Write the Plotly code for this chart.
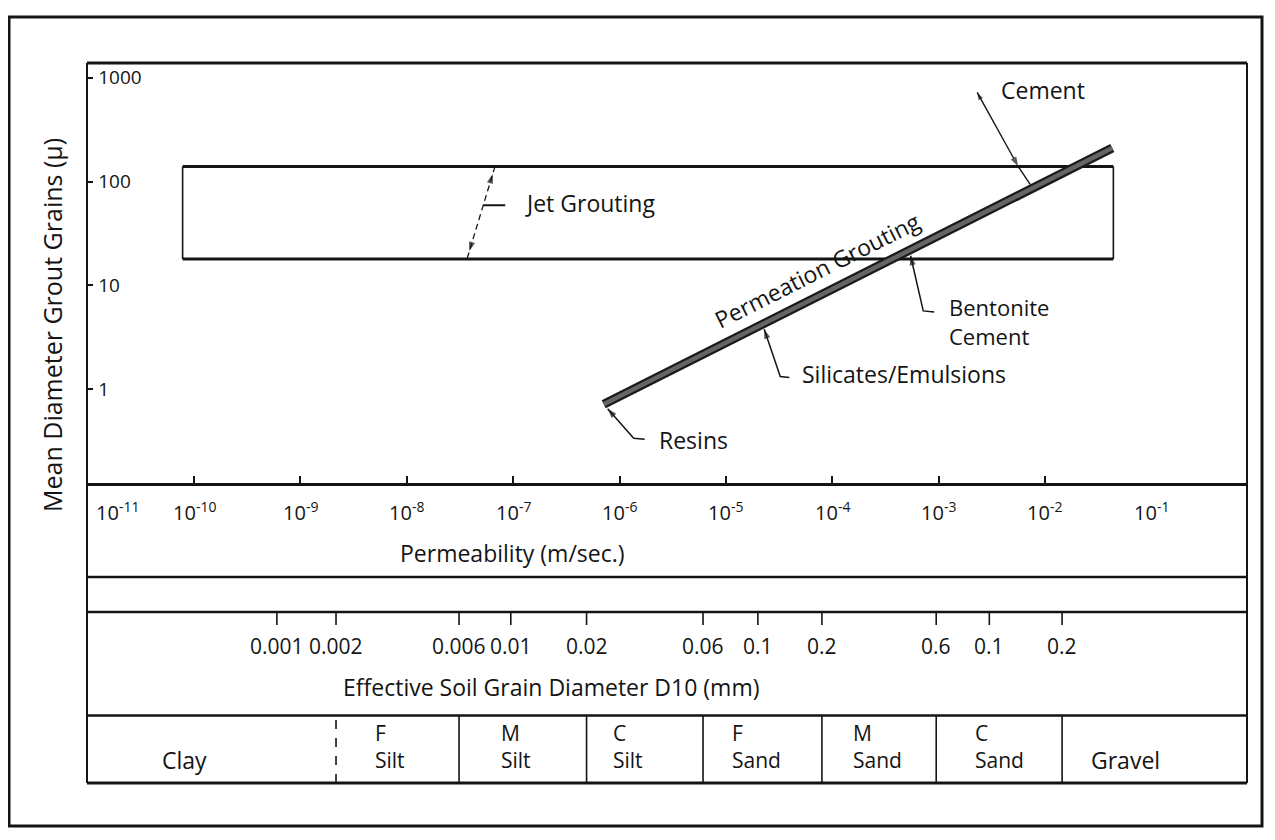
import numpy as np
import plotly.graph_objects as go

# ---------------- data ----------------
# Vertical axis: mean diameter of grout grains (micron), log scale
y_tick_vals = [1, 10, 100, 1000]
y_tick_text = ["1", "10", "100", "1000"]

# Horizontal axis: permeability (m/sec.), log scale
perm_label_exp = [-11, -10, -9, -8, -7, -6, -5, -4, -3, -2, -1]
perm_tick_vals = [1e-10, 1e-9, 1e-8, 1e-7, 1e-6, 1e-5, 1e-4, 1e-3, 1e-2]

# Jet grouting band (permeability range, grain size range)
jet_perm = [7.8e-11, 4.4e-2]
jet_size = [18, 140]

# Permeation grouting line
permeation_perm = [7.1e-7, 4.3e-2]
permeation_size = [0.72, 210]

# Grout types marked along the permeation line
grout_names = ["Resins", "Silicates/Emulsions", "Bentonite Cement", "Cement"]
grout_perm = [7.1e-7, 2.2e-5, 5.3e-4, 5.6e-3]
grout_size = [0.72, 4.3, 22, 140]

# Effective soil grain diameter D10 (mm), as printed, and its place on the permeability scale
diam_mm = [0.001, 0.002, 0.006, 0.01, 0.02, 0.06, 0.1, 0.2, 0.6, 1, 2]
diam_text = ["0.001", "0.002", "0.006", "0.01", "0.02", "0.06", "0.1", "0.2", "0.6", "0.1", "0.2"]
diam_perm = [6.0e-10, 2.16e-9, 3.1e-8, 9.5e-8, 4.9e-7, 6.1e-6, 2.0e-5, 8.0e-5, 9.5e-4, 3.0e-3, 1.45e-2]

# Soil classes
soil_bounds_mm = [0.002, 0.006, 0.02, 0.06, 0.2, 0.6, 2]
soil_grade = ["", "F", "M", "C", "F", "M", "C", ""]
soil_type = ["Clay", "Silt", "Silt", "Silt", "Sand", "Sand", "Sand", "Gravel"]

# ---------------- layout constants ----------------
W, H = 1275, 840
OFF = 8                      # page body margin
PL, PR, PT, PB = 87, 1247, 63, 783   # plotting frame on the page (px)
PW = PR - PL
PH = PB - PT
FONT = "'Open Sans', Lato, Arial, sans-serif"
INK = "#141414"


def fy(px):
    return (PB - px) / PH


def fx(px):
    return (px - PL) / PW


X_RANGE = [-11.007, -0.1]
Y_RANGE = [-0.915, 3.141]
Y_DOM = [fy(484.5), 1.0]
XPX = PW / (X_RANGE[1] - X_RANGE[0])
YPX = PH * (Y_DOM[1] - Y_DOM[0]) / (Y_RANGE[1] - Y_RANGE[0])

soil_label_exp = [-10.09, -8.16, -6.97, -5.92, -4.71, -3.57, -2.43, -1.24]


def on_line(k):
    lk = np.log10(permeation_perm)
    ld = np.log10(permeation_size)
    return 10 ** np.interp(np.log10(k), lk, ld)


def font(size):
    return dict(family=FONT, size=size, color=INK)


def offset(k, d, dx, dy):
    """data point shifted by (dx, dy) screen pixels (y down)"""
    return 10 ** (np.log10(k) + dx / XPX), 10 ** (np.log10(d) - dy / YPX)


fig = go.Figure()


def leader(k, d, pts, head=True, width=1.5, dash=None, head_size=10):
    """polyline through pixel offsets around (k, d); arrowhead on its last point"""
    xs, ys = zip(*[offset(k, d, px, py) for px, py in pts])
    sizes = [0] * (len(pts) - 1) + [head_size if head else 0]
    fig.add_trace(go.Scatter(x=list(xs), y=list(ys), mode="lines+markers",
                             line=dict(color=INK, width=width, dash=dash),
                             marker=dict(symbol="arrow", size=sizes, color=INK, angleref="previous",
                                         line=dict(width=0)),
                             hoverinfo="skip"))


# Jet grouting box
k0, k1 = jet_perm
d0, d1 = jet_size
fig.add_trace(go.Scatter(x=[k0, k1, None, k0, k1], y=[d1, d1, None, d0, d0], mode="lines",
                         line=dict(color=INK, width=3), hoverinfo="skip"))
fig.add_trace(go.Scatter(x=[k0, k0, None, k1, k1], y=[d0, d1, None, d0, d1], mode="lines",
                         line=dict(color=INK, width=1.6), hoverinfo="skip"))

# dashed jet grouting leader between the box edges
jl_k = [6.75e-8, 3.68e-8]
fig.add_trace(go.Scatter(x=jl_k, y=[d1, d0], mode="lines",
                         line=dict(color=INK, width=1.3, dash="6px,4px"), hoverinfo="skip"))

# Permeation grouting band
fig.add_trace(go.Scatter(x=permeation_perm, y=permeation_size, mode="lines",
                         line=dict(color="#1a1a1a", width=9), hoverinfo="skip"))
fig.add_trace(go.Scatter(x=permeation_perm, y=permeation_size, mode="lines",
                         line=dict(color="#656565", width=4.5), hoverinfo="skip"))

shapes = []
ann = []


def text(x, y, s, size, xref="x", yref="paper", **kw):
    a = dict(x=x, y=y, xref=xref, yref=yref, text=s, showarrow=False, font=font(size),
             xanchor="center", yanchor="middle")
    a.update(kw)
    ann.append(a)


def hline(ypx, w):
    shapes.append(dict(type="line", xref="paper", yref="paper", x0=0, x1=1, y0=fy(ypx), y1=fy(ypx),
                       line=dict(color=INK, width=w)))


hline(63, 3)
hline(484.5, 3)
hline(577, 2.5)
hline(612, 2.5)
hline(715.5, 2.5)
hline(783, 3)
for xv in (0, 1):
    shapes.append(dict(type="line", xref="paper", yref="paper", x0=xv, x1=xv, y0=0, y1=1,
                       line=dict(color=INK, width=2)))
shapes.append(dict(type="rect", xref="paper", yref="paper", x0=fx(9), x1=fx(1262), y0=fy(826), y1=fy(17),
                   line=dict(color=INK, width=3)))

# Grain diameter ticks and labels
for k, t in zip(diam_perm, diam_text):
    shapes.append(dict(type="line", xref="x", yref="paper", x0=k, x1=k, y0=fy(612), y1=fy(625),
                       line=dict(color=INK, width=1.6)))
    text(np.log10(k), fy(646), t, 21)

# Soil class dividers and names
d2k = dict(zip(diam_mm, diam_perm))
for i, b in enumerate(soil_bounds_mm):
    k = d2k[b]
    shapes.append(dict(type="line", xref="x", yref="paper", x0=k, x1=k, y0=0, y1=fy(715.5),
                       line=dict(color=INK, width=1.6, dash="dash" if i == 0 else "solid")))

for e, g, s in zip(soil_label_exp, soil_grade, soil_type):
    if g:
        text(e, fy(746.5), f"{g}<br>{s}", 21, align="left")
    else:
        text(e, fy(760), s, 23)

# Permeability labels
for e in perm_label_exp:
    if e == perm_label_exp[0]:
        text(e, fy(511), f"10<sup>{e}</sup>", 20, xanchor="left", xshift=6)
    else:
        text(e, fy(511), f"10<sup>{e}</sup>", 20)

text(-7.01, fy(553), "Permeability (m/sec.)", 23)
text(-6.644, fy(687), "Effective Soil Grain Diameter D10 (mm)", 23)
text(fx(52), fy(325), "Mean Diameter Grout Grains (μ)", 25, xref="paper", textangle=-90)

# Jet grouting leader arrows and label
lx = np.log10(jl_k)
ly = np.log10([d1, d0])
# unit direction (screen px) from the top end to the bottom end of the dashed leader
dxp = (lx[1] - lx[0]) * XPX
dyp = -(ly[1] - ly[0]) * YPX
ln = np.hypot(dxp, dyp)
ux, uy = dxp / ln, dyp / ln
leader(jl_k[0], d1, [(ux * 24, uy * 24), (ux * 8, uy * 8)], width=0.01, head_size=10)
leader(jl_k[1], d0, [(-ux * 24, -uy * 24), (-ux * 8, -uy * 8)], width=0.01, head_size=10)
tm = 0.42
mx = lx[0] + tm * (lx[1] - lx[0])
my = ly[0] + tm * (ly[1] - ly[0])
leader(10 ** mx, 10 ** my, [(0, 0), (22, 0)], head=False, width=1.8)
text(mx, my, "Jet Grouting", 23, yref="y", xanchor="left", xshift=40, yshift=2)

# Permeation grouting label along the band
tx = -4.139
ty = np.log10(on_line(10 ** tx))
slope = (np.log10(permeation_size[1]) - np.log10(permeation_size[0])) * YPX / \
        ((np.log10(permeation_perm[1]) - np.log10(permeation_perm[0])) * XPX)
angle = -np.degrees(np.arctan(slope))
text(tx, ty, "Permeation Grouting", 23, yref="y", textangle=angle, yshift=27)

# Grout type leaders (bent): bend point, end of short horizontal, text offset (screen px)
bent = {
    "Resins": dict(bx=30, by=34, hx=41, tx=53, ty=36),
    "Silicates/Emulsions": dict(bx=18, by=53, hx=27, tx=38, ty=50),
    "Bentonite Cement": dict(bx=14, by=61, hx=25, tx=38, ty=71.5),
}
for name, k, d in zip(grout_names, grout_perm, grout_size):
    if name in bent:
        p = bent[name]
        n = np.hypot(p["bx"], p["by"])
        tip = (p["bx"] / n * 6, p["by"] / n * 6)
        leader(k, d, [(p["hx"], p["by"] + 1), (p["bx"], p["by"]), tip], width=1.5)
        label = name.replace(" ", "<br>")
        text(np.log10(k), np.log10(d), label, 22 if "<br>" in label else 23, yref="y",
             xanchor="left", align="left", xshift=p["tx"], yshift=-p["ty"])
    else:
        # Cement: leader from label down to the top of the jet box, then on to the band
        leader(k, d, [(-41, -74), (0, 0)], width=1.4)
        leader(k, d, [(-35, -63), (-41, -74)], width=0.01, head_size=8)
        leader(k, d, [(0, 0), (12, 18)], head=False, width=1.4)
        text(np.log10(k), np.log10(d), name, 23, yref="y", xshift=25, yshift=76)

fig.update_xaxes(type="log", range=X_RANGE, showgrid=False, zeroline=False, showline=False,
                 tickvals=perm_tick_vals, ticks="inside", ticklen=9, tickwidth=1.5, tickcolor=INK,
                 showticklabels=False)
fig.update_yaxes(type="log", range=Y_RANGE, domain=Y_DOM, showgrid=False, zeroline=False, showline=False,
                 tickvals=y_tick_vals, ticktext=y_tick_text, ticks="inside", ticklen=6, tickwidth=1.5,
                 tickcolor=INK, ticklabelposition="inside", ticklabelstandoff=6,
                 tickfont=font(19))

fig.update_layout(width=W, height=H,
                  margin=dict(l=PL - OFF, r=W - (PR - OFF), t=PT - OFF, b=H - (PB - OFF), pad=0),
                  plot_bgcolor="white", paper_bgcolor="white", showlegend=False,
                  shapes=shapes, annotations=ann, hovermode=False)

fig.write_html("out.html")
